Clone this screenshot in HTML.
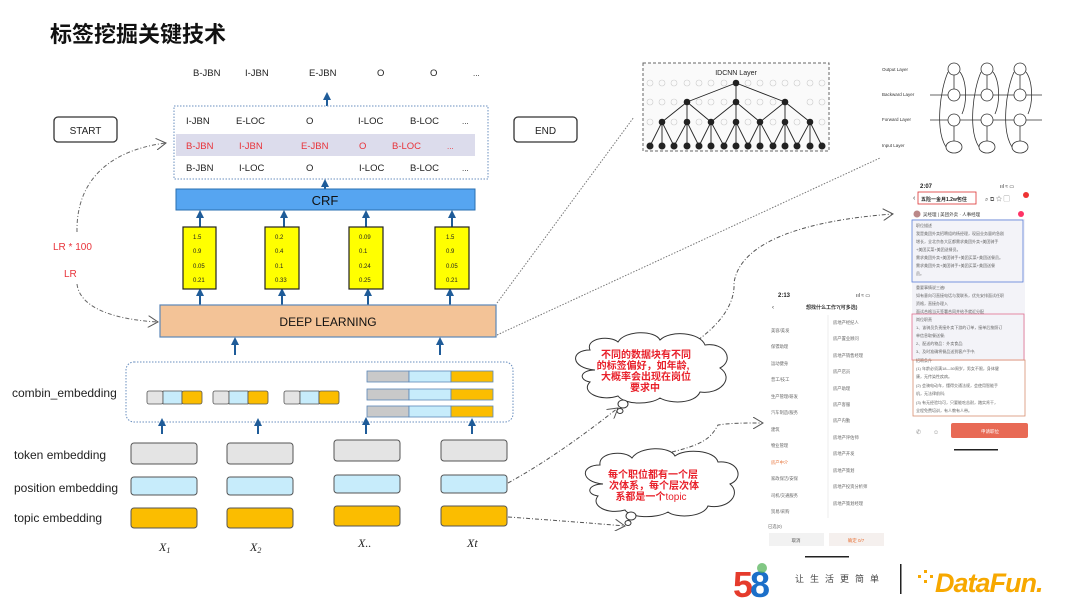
<!DOCTYPE html>
<html><head><meta charset="utf-8"><style>
body{margin:0;background:#fff;}
svg{display:block;font-family:"Liberation Sans","Noto Sans CJK SC",sans-serif;}
</style></head><body>
<svg width="1080" height="608" viewBox="0 0 1080 608" xmlns="http://www.w3.org/2000/svg">
<defs>
<marker id="ar" markerWidth="8" markerHeight="8" refX="4" refY="4" orient="auto" markerUnits="userSpaceOnUse"><path d="M0,0 L8,4 L0,8 Z" fill="#1f5c99"/></marker>
<marker id="op" markerWidth="12" markerHeight="12" refX="10" refY="6" orient="auto" markerUnits="userSpaceOnUse"><path d="M0,0 L10,6 L0,12" fill="none" stroke="#555" stroke-width="1"/></marker>
</defs>
<text x="50" y="42" font-size="22" font-weight="bold" fill="#111">标签挖掘关键技术</text>

<!-- top output row -->
<g font-size="9.5" fill="#222">
<text x="193" y="76">B-JBN</text><text x="245" y="76">I-JBN</text><text x="309" y="76">E-JBN</text><text x="377" y="76">O</text><text x="430" y="76">O</text><text x="473" y="76" font-size="8">...</text>
</g>
<line x1="327" y1="106" x2="327" y2="96" stroke="#1f5c99" stroke-width="2" marker-end="url(#ar)"/>

<!-- dashed box -->
<rect x="174" y="106" width="314" height="73" fill="none" stroke="#6a8fbf" stroke-width="1" stroke-dasharray="1.5,1.5"/>
<rect x="176" y="134" width="299" height="22" fill="#dcdcec"/>
<g font-size="9.5" fill="#222">
<text x="186" y="124">I-JBN</text><text x="236" y="124">E-LOC</text><text x="306" y="124">O</text><text x="358" y="124">I-LOC</text><text x="410" y="124">B-LOC</text><text x="462" y="124" font-size="8">...</text>
<text x="186" y="171">B-JBN</text><text x="239" y="171">I-LOC</text><text x="306" y="171">O</text><text x="359" y="171">I-LOC</text><text x="410" y="171">B-LOC</text><text x="462" y="171" font-size="8">...</text>
</g>
<g font-size="9.5" fill="#e8333a">
<text x="186" y="149">B-JBN</text><text x="239" y="149">I-JBN</text><text x="301" y="149">E-JBN</text><text x="359" y="149">O</text><text x="392" y="149">B-LOC</text><text x="447" y="149" font-size="8">...</text>
</g>

<!-- START / END -->
<rect x="54" y="117" width="63" height="25" rx="4" fill="#fff" stroke="#333" stroke-width="1.3"/>
<text x="85.5" y="134" font-size="10" text-anchor="middle" fill="#222">START</text>
<rect x="514" y="117" width="63" height="25" rx="4" fill="#fff" stroke="#333" stroke-width="1.3"/>
<text x="545.5" y="134" font-size="10" text-anchor="middle" fill="#222">END</text>

<!-- CRF -->
<line x1="325" y1="189" x2="325" y2="183" stroke="#1f5c99" stroke-width="2" marker-end="url(#ar)"/>
<rect x="176" y="189" width="299" height="21" fill="#56a5f1" stroke="#2a6fb0"/>
<text x="325" y="205" font-size="13" text-anchor="middle" fill="#111">CRF</text>

<!-- yellow boxes -->
<g stroke="#1f5c99" stroke-width="2">
<line x1="200" y1="227" x2="200" y2="214" marker-end="url(#ar)"/><line x1="284" y1="227" x2="284" y2="214" marker-end="url(#ar)"/>
<line x1="366" y1="227" x2="366" y2="214" marker-end="url(#ar)"/><line x1="452" y1="227" x2="452" y2="214" marker-end="url(#ar)"/>
<line x1="200" y1="305" x2="200" y2="292" marker-end="url(#ar)"/><line x1="282" y1="305" x2="282" y2="292" marker-end="url(#ar)"/>
<line x1="368" y1="305" x2="368" y2="292" marker-end="url(#ar)"/><line x1="450" y1="305" x2="450" y2="292" marker-end="url(#ar)"/>
</g>
<g fill="#ffff00" stroke="#222" stroke-width="1.2">
<rect x="183" y="227" width="33" height="62"/><rect x="265" y="227" width="34" height="62"/>
<rect x="349" y="227" width="34" height="62"/><rect x="435" y="227" width="34" height="62"/>
</g>
<g font-size="6" fill="#222">
<text x="193" y="239">1.5</text><text x="193" y="253">0.9</text><text x="193" y="268">0.05</text><text x="193" y="282">0.21</text>
<text x="275" y="239">0.2</text><text x="275" y="253">0.4</text><text x="275" y="268">0.1</text><text x="275" y="282">0.33</text>
<text x="359" y="239">0.09</text><text x="359" y="253">0.1</text><text x="359" y="268">0.24</text><text x="359" y="282">0.25</text>
<text x="446" y="239">1.5</text><text x="446" y="253">0.9</text><text x="446" y="268">0.05</text><text x="446" y="282">0.21</text>
</g>

<!-- DEEP LEARNING -->
<rect x="160" y="305" width="336" height="32" fill="#f3c397" stroke="#5b87b8" stroke-width="1.2"/>
<text x="328" y="326" font-size="12" text-anchor="middle" fill="#111">DEEP  LEARNING</text>
<g stroke="#1f5c99" stroke-width="2">
<line x1="235" y1="355" x2="235" y2="341" marker-end="url(#ar)"/><line x1="440" y1="355" x2="440" y2="341" marker-end="url(#ar)"/>
</g>

<!-- LR curves -->
<g fill="none" stroke="#666" stroke-width="1" stroke-dasharray="4,2,1,2">
<path d="M77,232 C76,180 110,150 166,143" marker-end="url(#op)"/>
<path d="M77,284 C80,310 120,320 158,322" marker-end="url(#op)"/>
</g>
<text x="53" y="250" font-size="10" fill="#e8333a">LR  * 100</text>
<text x="64" y="277" font-size="10" fill="#e8333a">LR</text>

<!-- combin embedding -->
<rect x="126" y="362" width="387" height="60" rx="8" fill="none" stroke="#6a8fbf" stroke-dasharray="1.5,1.5"/>
<text x="12" y="397" font-size="12" fill="#222">combin_embedding</text>
<g stroke="#555" stroke-width="0.8">
<rect x="147" y="391" width="16" height="13" rx="2" fill="#e4e4e4"/><rect x="163" y="391" width="19" height="13" fill="#c7ecfb"/><rect x="182" y="391" width="20" height="13" rx="2" fill="#fbbd00"/>
<rect x="213" y="391" width="16" height="13" rx="2" fill="#e4e4e4"/><rect x="229" y="391" width="19" height="13" fill="#c7ecfb"/><rect x="248" y="391" width="20" height="13" rx="2" fill="#fbbd00"/>
<rect x="284" y="391" width="16" height="13" rx="2" fill="#e4e4e4"/><rect x="300" y="391" width="19" height="13" fill="#c7ecfb"/><rect x="319" y="391" width="20" height="13" rx="2" fill="#fbbd00"/>
</g>
<g stroke="#5b87b8" stroke-width="0.8">
<rect x="367" y="371" width="42" height="11" fill="#c9c9c9"/><rect x="409" y="371" width="42" height="11" fill="#c7ecfb"/><rect x="451" y="371" width="42" height="11" fill="#fbbd00"/>
<rect x="367" y="389" width="42" height="11" fill="#c9c9c9"/><rect x="409" y="389" width="42" height="11" fill="#c7ecfb"/><rect x="451" y="389" width="42" height="11" fill="#fbbd00"/>
<rect x="367" y="406" width="42" height="11" fill="#c9c9c9"/><rect x="409" y="406" width="42" height="11" fill="#c7ecfb"/><rect x="451" y="406" width="42" height="11" fill="#fbbd00"/>
</g>
<g stroke="#1f5c99" stroke-width="2">
<line x1="162" y1="434" x2="162" y2="422" marker-end="url(#ar)"/><line x1="258" y1="434" x2="258" y2="422" marker-end="url(#ar)"/>
<line x1="366" y1="434" x2="366" y2="421" marker-end="url(#ar)"/><line x1="472" y1="434" x2="472" y2="422" marker-end="url(#ar)"/>
</g>

<!-- embeddings -->
<g font-size="12" fill="#222">
<text x="14" y="459">token embedding</text><text x="14" y="492">position embedding</text><text x="14" y="522">topic embedding</text>
</g>
<g stroke="#555" stroke-width="1">
<rect x="131" y="443" width="66" height="21" rx="3" fill="#e4e4e4"/><rect x="227" y="443" width="66" height="21" rx="3" fill="#e4e4e4"/>
<rect x="334" y="440" width="66" height="21" rx="3" fill="#e4e4e4"/><rect x="441" y="440" width="66" height="21" rx="3" fill="#e4e4e4"/>
<rect x="131" y="477" width="66" height="18" rx="3" fill="#c7ecfb"/><rect x="227" y="477" width="66" height="18" rx="3" fill="#c7ecfb"/>
<rect x="334" y="475" width="66" height="18" rx="3" fill="#c7ecfb"/><rect x="441" y="475" width="66" height="18" rx="3" fill="#c7ecfb"/>
<rect x="131" y="508" width="66" height="20" rx="3" fill="#fbbd00"/><rect x="227" y="508" width="66" height="20" rx="3" fill="#fbbd00"/>
<rect x="334" y="506" width="66" height="20" rx="3" fill="#fbbd00"/><rect x="441" y="506" width="66" height="20" rx="3" fill="#fbbd00"/>
</g>
<g font-family="Liberation Serif,serif" font-style="italic" font-size="12" fill="#222">
<text x="159" y="551">X<tspan font-size="8" dy="2">1</tspan></text>
<text x="250" y="551">X<tspan font-size="8" dy="2">2</tspan></text>
<text x="358" y="547">X..</text>
<text x="467" y="547">Xt</text>
</g>

<!-- dotted lines to images -->
<g fill="none" stroke="#777" stroke-width="1" stroke-dasharray="1.5,1.5">
<line x1="497" y1="303" x2="634" y2="117"/>
<line x1="497" y1="335" x2="880" y2="158"/>
</g>

<!-- dash-dot connectors -->
<g fill="none" stroke="#555" stroke-width="1" stroke-dasharray="4,2,1,2">
<path d="M698,340 C725,320 735,300 734,283 C740,240 810,220 893,214" marker-end="url(#op)"/>
<path d="M508,483 C550,460 590,430 618,408" marker-end="url(#op)"/>
<path d="M508,517 C550,520 590,523 625,526" marker-end="url(#op)"/>
<path d="M672,452 C700,445 710,440 718,425 C730,423 745,423 763,423" marker-end="url(#op)"/>
</g>

<!-- clouds -->
<g fill="#fff" stroke="#333" stroke-width="1">
<path d="M595,370 C570,368 570,350 590,350 C585,338 610,335 618,342 C625,330 655,330 660,340 C670,330 700,332 705,345 C725,342 735,360 720,368 C735,378 720,395 700,392 C695,404 670,404 660,398 C650,405 625,405 618,396 C600,402 580,392 590,382 C578,380 580,370 595,370 Z"/>
<ellipse cx="623" cy="404" rx="5" ry="4"/><ellipse cx="620" cy="411" rx="3" ry="2.5"/>
<path d="M603,484 C580,482 580,465 600,465 C598,452 625,450 632,458 C640,446 670,446 675,456 C685,448 715,450 718,462 C738,460 745,478 730,484 C742,494 728,510 708,506 C703,518 675,518 668,512 C656,519 630,518 625,510 C608,515 590,506 598,496 C585,494 588,484 603,484 Z"/>
<ellipse cx="631" cy="516" rx="5" ry="4"/><ellipse cx="628" cy="523" rx="3" ry="2.5"/>
</g>
<g font-size="10" font-weight="bold" fill="#e8202a" text-anchor="middle">
<text x="646" y="358">不同的数据块有不同</text>
<text x="643" y="369">的标签偏好，如年龄,</text>
<text x="646" y="380">大概率会出现在岗位</text>
<text x="645" y="391">要求中</text>
<text x="653" y="478">每个职位都有一个层</text>
<text x="654" y="489">次体系，每个层次体</text>
<text x="651" y="500">系都是一个<tspan font-weight="normal">topic</tspan></text>
</g>

<!-- IDCNN image -->
<g>
<rect x="643" y="63" width="186" height="88" fill="#fafafa" stroke="#666" stroke-dasharray="3,2"/>
<text x="736" y="75" font-size="7" text-anchor="middle" fill="#222">IDCNN Layer</text>
<g fill="none" stroke="#ccc" stroke-width="0.6">
<circle cx="650" cy="83" r="3"/><circle cx="662" cy="83" r="3"/><circle cx="674" cy="83" r="3"/><circle cx="687" cy="83" r="3"/><circle cx="699" cy="83" r="3"/><circle cx="711" cy="83" r="3"/><circle cx="724" cy="83" r="3"/><circle cx="748" cy="83" r="3"/><circle cx="760" cy="83" r="3"/><circle cx="773" cy="83" r="3"/><circle cx="785" cy="83" r="3"/><circle cx="797" cy="83" r="3"/><circle cx="810" cy="83" r="3"/><circle cx="822" cy="83" r="3"/>
<circle cx="650" cy="102" r="3"/><circle cx="662" cy="102" r="3"/><circle cx="674" cy="102" r="3"/><circle cx="699" cy="102" r="3"/><circle cx="711" cy="102" r="3"/><circle cx="724" cy="102" r="3"/><circle cx="748" cy="102" r="3"/><circle cx="760" cy="102" r="3"/><circle cx="773" cy="102" r="3"/><circle cx="785" cy="102" r="3"/><circle cx="810" cy="102" r="3"/><circle cx="822" cy="102" r="3"/>
<circle cx="650" cy="122" r="3"/><circle cx="674" cy="122" r="3"/><circle cx="699" cy="122" r="3"/><circle cx="724" cy="122" r="3"/><circle cx="748" cy="122" r="3"/><circle cx="773" cy="122" r="3"/><circle cx="797" cy="122" r="3"/><circle cx="822" cy="122" r="3"/>
</g>
<g stroke="#222" stroke-width="0.9" fill="none">
<path d="M736,83 L687,102 M736,83 L736,102 M736,83 L785,102"/>
<path d="M687,102 L662,122 M687,102 L687,122 M687,102 L711,122 M736,102 L711,122 M736,102 L736,122 M736,102 L760,122 M785,102 L760,122 M785,102 L785,122 M785,102 L810,122"/>
<path d="M662,122 L650,146 M662,122 L662,146 M662,122 L674,146 M687,122 L674,146 M687,122 L687,146 M687,122 L699,146 M711,122 L699,146 M711,122 L711,146 M711,122 L724,146 M736,122 L724,146 M736,122 L736,146 M736,122 L748,146 M760,122 L748,146 M760,122 L760,146 M760,122 L773,146 M785,122 L773,146 M785,122 L785,146 M785,122 L797,146 M810,122 L797,146 M810,122 L810,146 M810,122 L822,146"/>
</g>
<g fill="#222">
<circle cx="736" cy="83" r="3.3"/><circle cx="687" cy="102" r="3.3"/><circle cx="736" cy="102" r="3.3"/><circle cx="785" cy="102" r="3.3"/>
<circle cx="662" cy="122" r="3.3"/><circle cx="687" cy="122" r="3.3"/><circle cx="711" cy="122" r="3.3"/><circle cx="736" cy="122" r="3.3"/><circle cx="760" cy="122" r="3.3"/><circle cx="785" cy="122" r="3.3"/><circle cx="810" cy="122" r="3.3"/>
<circle cx="650" cy="146" r="3.5"/><circle cx="662" cy="146" r="3.5"/><circle cx="674" cy="146" r="3.5"/><circle cx="687" cy="146" r="3.5"/><circle cx="699" cy="146" r="3.5"/><circle cx="711" cy="146" r="3.5"/><circle cx="724" cy="146" r="3.5"/><circle cx="736" cy="146" r="3.5"/><circle cx="748" cy="146" r="3.5"/><circle cx="760" cy="146" r="3.5"/><circle cx="773" cy="146" r="3.5"/><circle cx="785" cy="146" r="3.5"/><circle cx="797" cy="146" r="3.5"/><circle cx="810" cy="146" r="3.5"/><circle cx="822" cy="146" r="3.5"/>
</g>
</g>

<!-- BiLSTM image -->
<g font-size="4.5" fill="#333">
<text x="882" y="71">Output Layer</text><text x="882" y="96">Backward Layer</text><text x="882" y="121">Forward Layer</text><text x="882" y="147">Input Layer</text>
</g>
<g fill="none" stroke="#333" stroke-width="0.8">
<line x1="930" y1="95" x2="1042" y2="95"/><line x1="930" y1="120" x2="1042" y2="120"/>
<circle cx="954" cy="69" r="6"/><circle cx="987" cy="69" r="6"/><circle cx="1020" cy="69" r="6"/>
<circle cx="954" cy="95" r="6" fill="#fff"/><circle cx="987" cy="95" r="6" fill="#fff"/><circle cx="1020" cy="95" r="6" fill="#fff"/>
<circle cx="954" cy="120" r="6" fill="#fff"/><circle cx="987" cy="120" r="6" fill="#fff"/><circle cx="1020" cy="120" r="6" fill="#fff"/>
<ellipse cx="954" cy="147" rx="8" ry="6"/><ellipse cx="987" cy="147" rx="8" ry="6"/><ellipse cx="1020" cy="147" rx="8" ry="6"/>
<path d="M954,141 L954,126 M987,141 L987,126 M1020,141 L1020,126 M954,89 L954,75 M987,89 L987,75 M1020,89 L1020,75"/>
<path d="M946,147 C935,130 940,90 948,72 M979,147 C968,130 973,90 981,72 M1012,147 C1001,130 1006,90 1014,72"/>
<path d="M962,114 C968,100 966,80 960,72 M995,114 C1001,100 999,80 993,72 M1028,114 C1034,100 1032,80 1026,72"/>
</g>

<!-- Phone 1 (right) -->
<g>
<rect x="910" y="180" width="125" height="262" fill="#fff"/>
<text x="920" y="188" font-size="6" font-weight="bold" fill="#222">2:07</text>
<text x="1000" y="188" font-size="5" fill="#222">ııl ≈ ▭</text>
<text x="913" y="200" font-size="7" fill="#333">‹</text>
<rect x="918" y="192" width="58" height="12" fill="none" stroke="#d33" stroke-width="0.8"/>
<text x="921" y="201" font-size="5" font-weight="bold" fill="#222">五险一金月1.2w包住</text>
<text x="985" y="201" font-size="6" fill="#555">⌕ ⧉ ☆ ▢</text>
<circle cx="1026" cy="195" r="3" fill="#e33"/>
<circle cx="917" cy="214" r="3.5" fill="#b88"/>
<text x="923" y="216" font-size="4.5" fill="#333">吴经理 | 美团外卖 · 人事经理</text>
<circle cx="1021" cy="214" r="3" fill="#f36"/>
<rect x="912" y="219" width="113" height="140" fill="#f3f3f8"/>
<rect x="912" y="220" width="111" height="62" fill="none" stroke="#5b7fd8" stroke-width="0.8"/>
<g font-size="4" fill="#666">
<text x="916" y="227">职位描述</text><text x="916" y="235">我是美团外卖招聘组的杨经理，现因业务量的急剧</text><text x="916" y="243">增长，全北京各大区都需求美团外卖+美团骑手</text><text x="916" y="251">+美团买菜+美团送餐员。</text><text x="916" y="259">需求美团外卖+美团骑手+美团买菜+美团送餐员。</text><text x="916" y="267">需求美团外卖+美团骑手+美团买菜+美团送餐</text><text x="916" y="275">员。</text>
<text x="916" y="289">重要事情说三遍!</text><text x="916" y="297">如有意向可直接电话与我联系，优先安排面试任职</text><text x="916" y="305">资格，直接办理入</text><text x="916" y="313">面试合格当天签署合同并给予就近分配</text>
<text x="916" y="321">岗位职责</text><text x="916" y="329">1、该骑员负责接外卖下游的订单，接单后按照订</text><text x="916" y="337">单信息取餐送餐;</text><text x="916" y="345">2、配送的物品：外卖食品;</text><text x="916" y="353">3、及时准确将餐品送到客户手中;</text>
<text x="916" y="362">招聘条件</text><text x="916" y="370">(1) 年龄必须满18—50周岁，男女不限，身体健</text><text x="916" y="378">康，无传染性疾病。</text><text x="916" y="387">(2) 会骑电动车，懂得交通法规，会使用智能手</text><text x="916" y="395">机，无法律前科;</text><text x="916" y="404">(3) 有无经验均可，只要能吃苦耐，踏实肯干，</text><text x="916" y="412">全程免费培训，有人教有人带。</text>
</g>
<rect x="912" y="314" width="112" height="46" fill="none" stroke="#e07090" stroke-width="0.8"/>
<rect x="913" y="360" width="112" height="56" fill="#f3f3f8" stroke="#d89070" stroke-width="0.8" fill-opacity="0"/>
<text x="916" y="434" font-size="6" fill="#888">✆</text><text x="933" y="434" font-size="6" fill="#888">☺</text>
<rect x="951" y="423" width="77" height="15" rx="2" fill="#e86a55"/>
<text x="990" y="433" font-size="4.5" fill="#fff" text-anchor="middle">申请职位</text>
<rect x="954" y="449" width="44" height="1.5" fill="#222"/>
</g>

<!-- Phone 2 -->
<g>
<text x="778" y="297" font-size="6" font-weight="bold" fill="#222">2:13</text>
<text x="856" y="297" font-size="5" fill="#222">ııl ≈ ▭</text>
<text x="772" y="309" font-size="6" fill="#333">‹</text>
<text x="806" y="309" font-size="5" font-weight="bold" fill="#333">想找什么工作?(可多选)</text>
<g font-size="4.3" fill="#666">
<text x="771" y="332">美容/美发</text><text x="771" y="348">保镖助理</text><text x="771" y="365">运动健身</text><text x="771" y="381">普工/技工</text><text x="771" y="398">生产管理/研发</text><text x="771" y="414">汽车制造/服务</text><text x="771" y="431">建筑</text><text x="771" y="447">物业管理</text><text x="771" y="464" fill="#e8743a">房产中介</text><text x="771" y="480">家政保洁/安保</text><text x="771" y="497">司机/交通服务</text><text x="771" y="513">贸易/采购</text>
<text x="833" y="324">房地产经纪人</text><text x="833" y="340">房产置业顾问</text><text x="833" y="357">房地产销售经理</text><text x="833" y="373">房产店员</text><text x="833" y="390">房产助理</text><text x="833" y="406">房产客服</text><text x="833" y="422">房产内勤</text><text x="833" y="439">房地产评估师</text><text x="833" y="455">房地产开发</text><text x="833" y="472">房地产策划</text><text x="833" y="488">房地产投资分析师</text><text x="833" y="505">房地产策划经理</text>
<text x="768" y="528">已选(0)</text>
</g>
<line x1="828" y1="315" x2="828" y2="518" stroke="#eee"/>
<rect x="769" y="533" width="55" height="13" fill="#f2f2f2"/><text x="796" y="542" font-size="4.5" fill="#555" text-anchor="middle">取消</text>
<rect x="829" y="533" width="55" height="13" fill="#f5f0ee"/><text x="856" y="542" font-size="4.5" fill="#e8743a" text-anchor="middle">确定 0/7</text>
<rect x="805" y="556" width="44" height="1.5" fill="#222"/>
</g>

<!-- logos -->
<text x="733" y="597" font-size="36" font-weight="bold" letter-spacing="-3"><tspan fill="#e53b2c">5</tspan><tspan fill="#1b6fc9">8</tspan></text>
<circle cx="762" cy="568" r="5" fill="#4caf50" opacity="0.7"/>
<text x="795" y="582" font-size="9" fill="#444" letter-spacing="6">让生活更简单</text>
<rect x="900" y="564" width="1.5" height="30" fill="#222"/>
<g fill="#f7a800">
<rect x="918" y="575" width="3" height="3"/><rect x="924" y="570" width="3" height="3"/><rect x="924" y="580" width="3" height="3"/><rect x="930" y="575" width="3" height="3"/>
</g>
<text x="935" y="592" font-size="27" font-weight="bold" font-style="italic" fill="#f7a800" letter-spacing="-1">DataFun.</text>
</svg>
</body></html>
